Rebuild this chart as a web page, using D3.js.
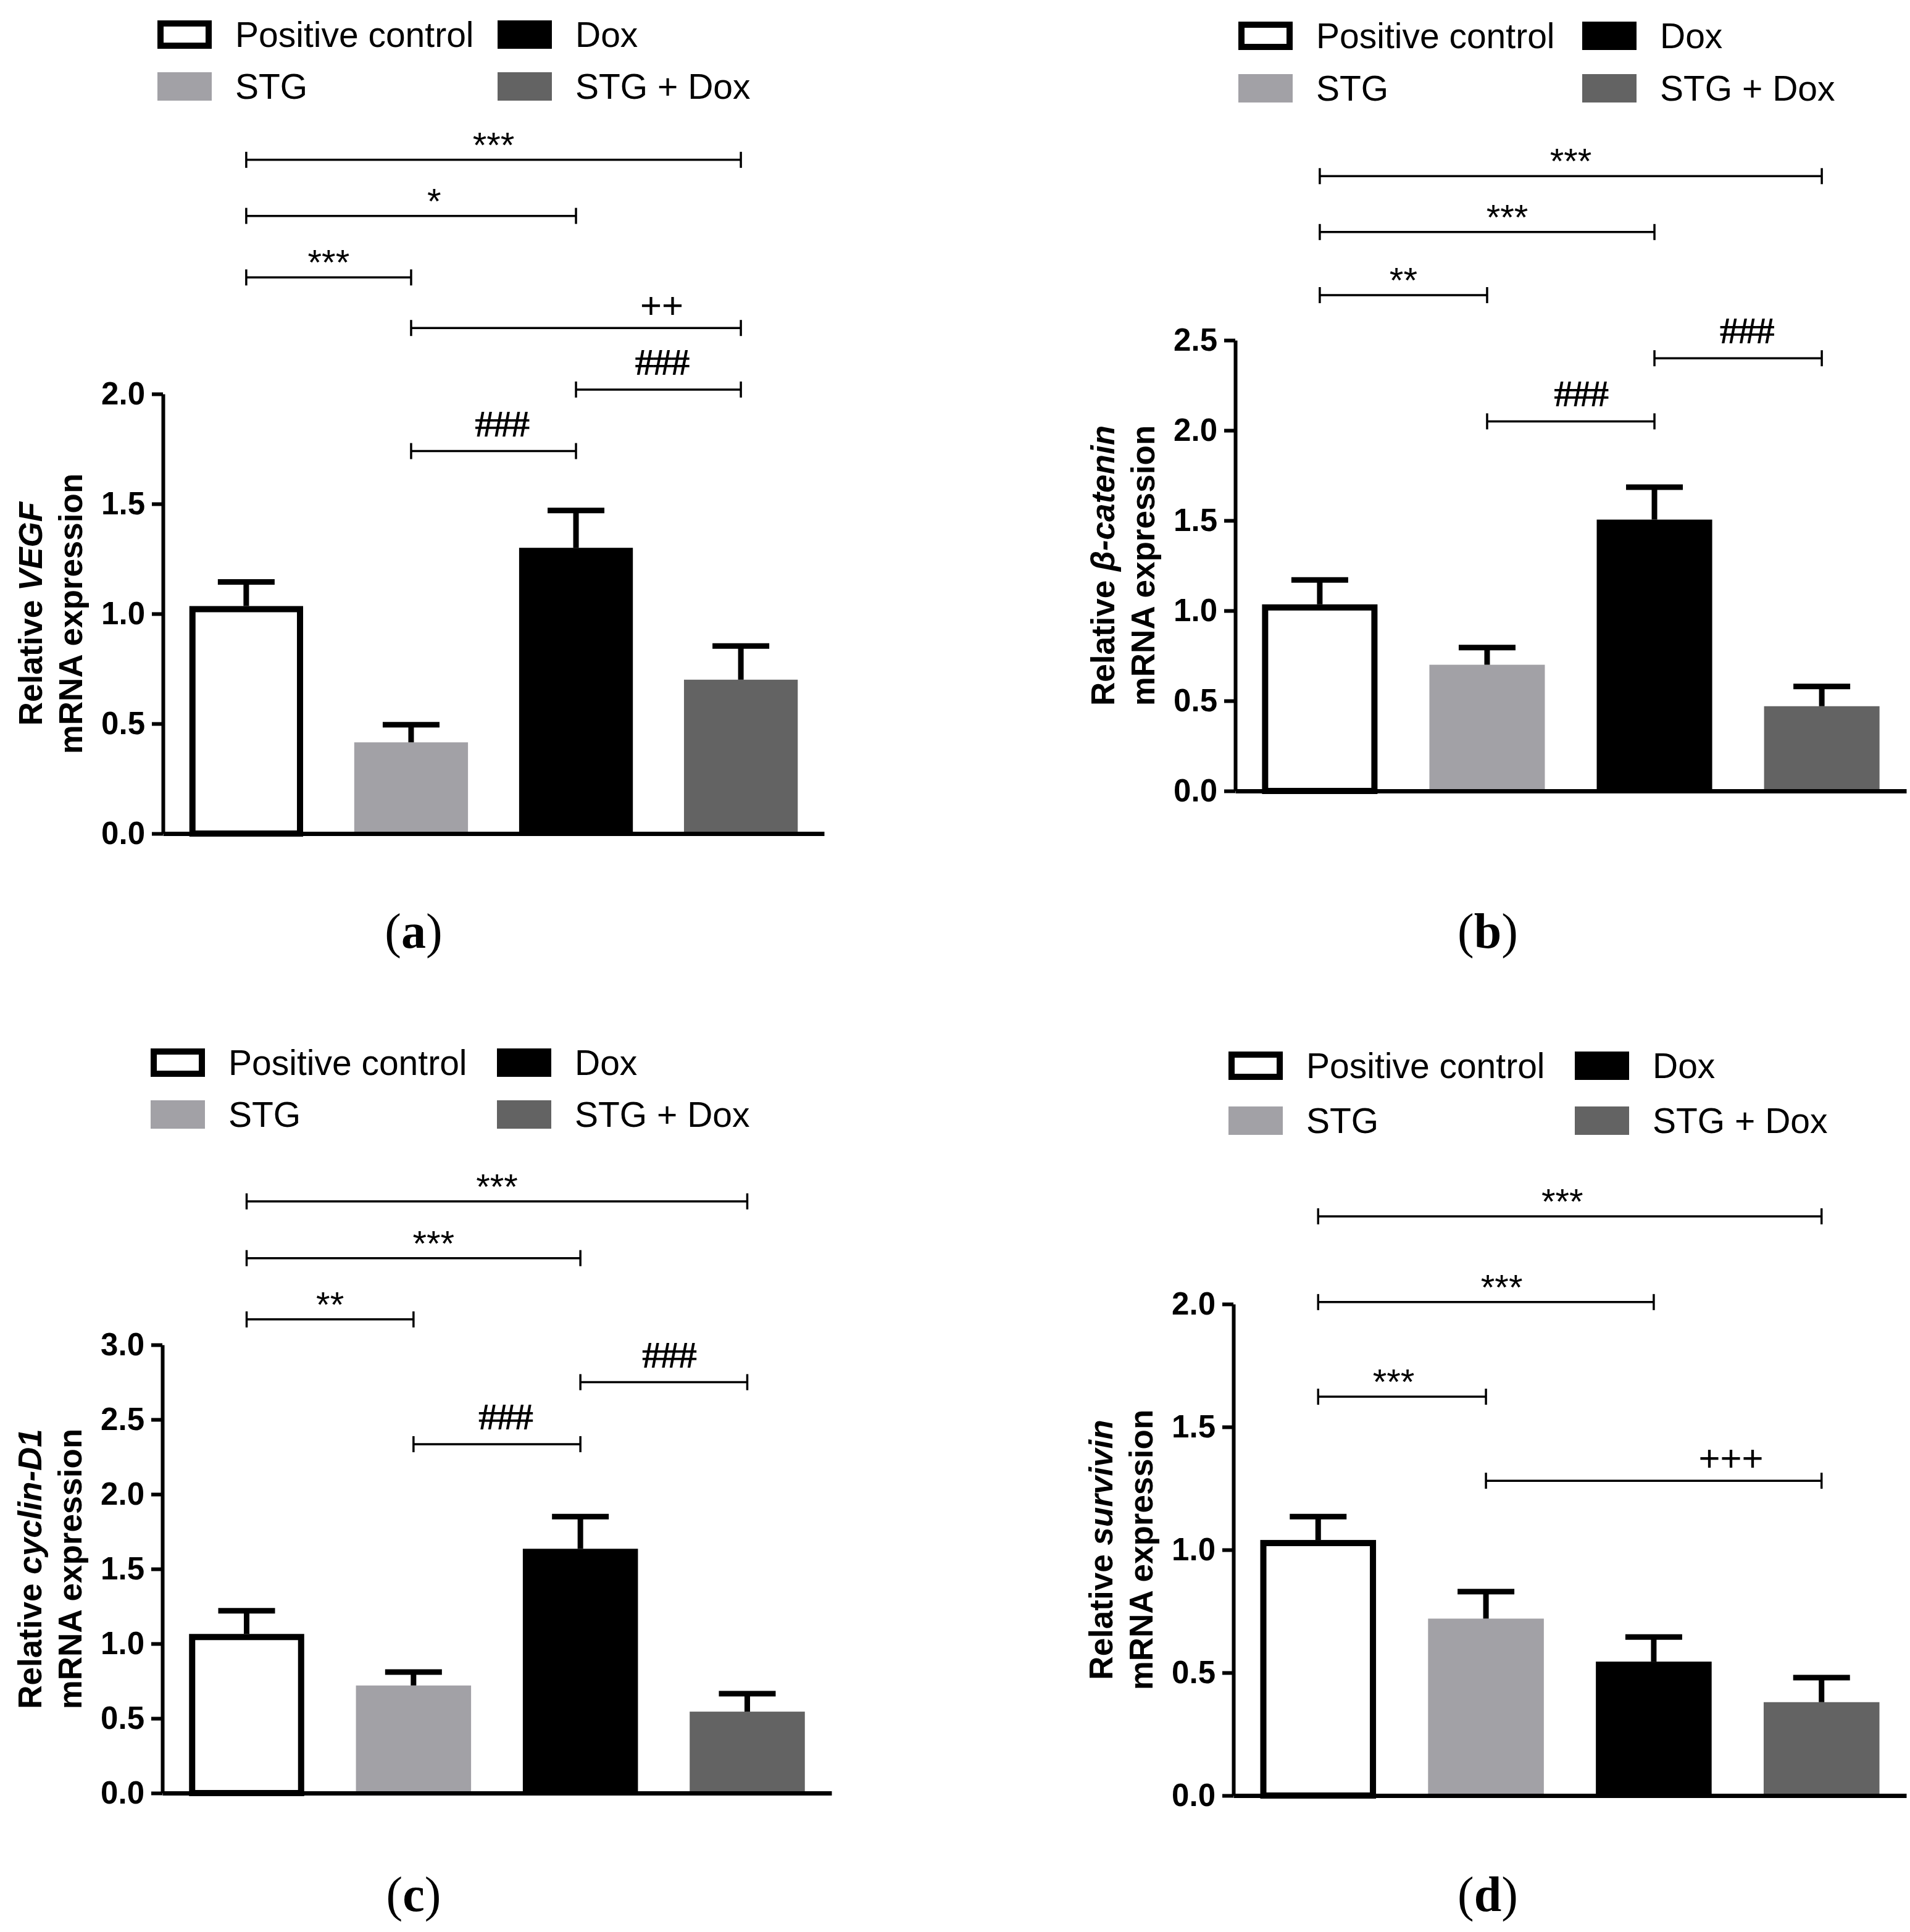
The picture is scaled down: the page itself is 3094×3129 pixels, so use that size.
<!DOCTYPE html>
<html>
<head>
<meta charset="utf-8">
<script src="https://cdn.jsdelivr.net/npm/d3@7"></script>
<style>
  body { margin: 0; background: #fff; }
  svg { display: block; }
</style>
</head>
<body>
<script>
// groups shared by all four panels
const groups = ["Positive control", "STG", "Dox", "STG + Dox"];
const groupFill = ["#ffffff", "#a2a1a6", "#000000", "#636363"];

// mean relative expression and upper error
const vegfMean = [1.035, 0.415, 1.30, 0.70];
const vegfErr = [0.11, 0.08, 0.17, 0.153];
const cateninMean = [1.035, 0.70, 1.505, 0.47];
const cateninErr = [0.135, 0.095, 0.18, 0.11];
const cyclinMean = [1.065, 0.72, 1.635, 0.545];
const cyclinErr = [0.155, 0.09, 0.215, 0.12];
const survivinMean = [1.04, 0.72, 0.545, 0.38];
const survivinErr = [0.095, 0.11, 0.10, 0.10];

// y tick labels
const vegfTicks = [0, 0.5, 1.0, 1.5, 2.0];
const cateninTicks = [0, 0.5, 1.0, 1.5, 2.0, 2.5];
const cyclinTicks = [0, 0.5, 1.0, 1.5, 2.0, 2.5, 3.0];
const survivinTicks = [0, 0.5, 1.0, 1.5, 2.0];

// significance comparisons [from group, to group, mark]
const vegfSig = [[0, 3, "***"], [0, 2, "*"], [0, 1, "***"], [1, 3, "++"], [2, 3, "###"], [1, 2, "###"]];
const cateninSig = [[0, 3, "***"], [0, 2, "***"], [0, 1, "**"], [2, 3, "###"], [1, 2, "###"]];
const cyclinSig = [[0, 3, "***"], [0, 2, "***"], [0, 1, "**"], [2, 3, "###"], [1, 2, "###"]];
const survivinSig = [[0, 3, "***"], [0, 2, "***"], [0, 1, "***"], [1, 3, "+++"]];

const panels = [
  { gene: "VEGF", mean: vegfMean, err: vegfErr, ticks: vegfTicks, sig: vegfSig, tag: "a",
    x0: 264, x1: 1335, yBase: 1350, yTop: 638,
    legX: 255, legRows: [56, 140], legCol: 551, capX: 670, capY: 1514,
    sigLevel: [3.065, 2.81, 2.53, 2.30, 2.02, 1.74], sigFrac: [0.5, 0.57, 0.5, 0.76, 0.52, 0.55] },
  { gene: "β-catenin", mean: cateninMean, err: cateninErr, ticks: cateninTicks, sig: cateninSig, tag: "b",
    x0: 2001, x1: 3088, yBase: 1281, yTop: 551,
    legX: 2006, legRows: [58, 143], legCol: 557, capX: 2410, capY: 1514,
    sigLevel: [3.41, 3.10, 2.75, 2.40, 2.05], sigFrac: [0.5, 0.56, 0.5, 0.55, 0.56] },
  { gene: "cyclin-D1", mean: cyclinMean, err: cyclinErr, ticks: cyclinTicks, sig: cyclinSig, tag: "c",
    x0: 263, x1: 1347, yBase: 2904, yTop: 2178,
    legX: 244, legRows: [1721, 1805], legCol: 561, capX: 670, capY: 3074,
    sigLevel: [3.96, 3.58, 3.17, 2.75, 2.335], sigFrac: [0.5, 0.56, 0.5, 0.53, 0.55] },
  { gene: "survivin", mean: survivinMean, err: survivinErr, ticks: survivinTicks, sig: survivinSig, tag: "d",
    x0: 1998, x1: 3088, yBase: 2908, yTop: 2112,
    legX: 1990, legRows: [1726, 1815], legCol: 561, capX: 2410, capY: 3074,
    sigLevel: [2.357, 2.008, 1.623, 1.281], sigFrac: [0.485, 0.547, 0.45, 0.73] }
];

const sans = "'Liberation Sans', Arial, Helvetica, sans-serif";
const serif = "'Liberation Serif', 'Times New Roman', serif";

const svg = d3.select("body").append("svg")
  .attr("width", 3094)
  .attr("height", 3129);
svg.append("rect").attr("width", 3094).attr("height", 3129).attr("fill", "#fff");

panels.forEach(p => drawPanel(p));

function drawPanel(p) {
  const g = svg.append("g");

  const x = d3.scaleBand()
    .domain(groups)
    .range([p.x0, p.x1])
    .paddingInner(0.31)
    .paddingOuter(0.16);
  const y = d3.scaleLinear()
    .domain([0, d3.max(p.ticks)])
    .range([p.yBase, p.yTop]);
  const cx = i => x(groups[i]) + x.bandwidth() / 2;

  // bars
  const bw = x.bandwidth();
  g.selectAll(".bar")
    .data(groups)
    .enter()
    .append("rect")
    .attr("class", "bar")
    .attr("x", (d, i) => i === 0 ? x(d) + 5 : x(d))
    .attr("y", (d, i) => i === 0 ? y(p.mean[i]) + 5 : y(p.mean[i]))
    .attr("width", (d, i) => i === 0 ? bw - 10 : bw)
    .attr("height", (d, i) => i === 0 ? p.yBase - y(p.mean[i]) - 5 : p.yBase - y(p.mean[i]))
    .attr("fill", (d, i) => groupFill[i])
    .attr("stroke", (d, i) => i === 0 ? "#000" : "none")
    .attr("stroke-width", 10);

  // error bars (upper only)
  groups.forEach((d, i) => {
    g.append("line")
      .attr("x1", cx(i)).attr("x2", cx(i))
      .attr("y1", y(p.mean[i])).attr("y2", y(p.mean[i] + p.err[i]))
      .attr("stroke", "#000").attr("stroke-width", 9);
    g.append("line")
      .attr("x1", cx(i) - 46).attr("x2", cx(i) + 46)
      .attr("y1", y(p.mean[i] + p.err[i])).attr("y2", y(p.mean[i] + p.err[i]))
      .attr("stroke", "#000").attr("stroke-width", 9);
  });

  // y axis
  const yAxis = d3.axisLeft(y)
    .tickValues(p.ticks)
    .tickFormat(d3.format(".1f"))
    .tickSize(18)
    .tickSizeOuter(0)
    .tickPadding(11);
  const ya = g.append("g")
    .attr("transform", "translate(" + p.x0 + ",0)")
    .call(yAxis);
  ya.select(".domain").attr("stroke", "#000").attr("stroke-width", 6);
  ya.selectAll(".tick line").attr("stroke", "#000").attr("stroke-width", 6);
  ya.selectAll(".tick text")
    .attr("fill", "#000")
    .style("font-family", sans)
    .style("font-weight", "bold")
    .style("font-size", "51px");

  // x axis, a bare line
  const xa = g.append("g")
    .attr("transform", "translate(0," + p.yBase + ")")
    .call(d3.axisBottom(x).tickValues([]).tickSizeOuter(0));
  xa.select(".domain").attr("stroke", "#000").attr("stroke-width", 7);

  // axis title
  const mid = (p.yBase + p.yTop) / 2;
  const tg = g.append("g")
    .attr("transform", "translate(" + p.x0 + "," + mid + ") rotate(-90)")
    .style("font-family", sans)
    .style("font-weight", "bold")
    .style("font-size", "53px")
    .attr("text-anchor", "middle");
  const t1 = tg.append("text").attr("y", -215).attr("dy", "0.35em");
  t1.append("tspan").text("Relative ");
  t1.append("tspan").style("font-style", "italic").text(p.gene);
  tg.append("text").attr("y", -150).attr("dy", "0.35em").text("mRNA expression");

  // significance brackets
  p.sig.forEach((s, k) => {
    const ly = y(p.sigLevel[k]);
    const xa0 = cx(s[0]), xb0 = cx(s[1]);
    g.append("line").attr("x1", xa0).attr("x2", xb0).attr("y1", ly).attr("y2", ly)
      .attr("stroke", "#000").attr("stroke-width", 3.5);
    [xa0, xb0].forEach(ex => {
      g.append("line").attr("x1", ex).attr("x2", ex).attr("y1", ly - 13).attr("y2", ly + 13)
        .attr("stroke", "#000").attr("stroke-width", 3.5);
    });
    const lx = xa0 + p.sigFrac[k] * (xb0 - xa0);
    const mark = s[2];
    const lab = g.append("text")
      .attr("x", lx)
      .attr("text-anchor", "middle")
      .attr("fill", "#000")
      .text(mark);
    if (mark[0] === "*") {
      lab.attr("y", ly - 4).style("font-family", sans).style("font-size", "58px");
    } else if (mark[0] === "+") {
      lab.attr("y", ly - 16).style("font-family", sans).style("font-size", "60px");
    } else {
      lab.attr("y", ly - 24).style("font-family", serif).style("font-weight", "bold")
        .style("font-size", "62px").style("letter-spacing", "-2px");
    }
  });

  // legend: two columns, two rows
  groups.forEach((d, i) => {
    const col = Math.floor(i / 2), row = i % 2;
    const bx = p.legX + col * p.legCol;
    const by = p.legRows[row];
    if (i === 0) {
      g.append("rect").attr("x", bx + 5).attr("y", by - 23 + 5).attr("width", 78).attr("height", 36)
        .attr("fill", "#fff").attr("stroke", "#000").attr("stroke-width", 10);
    } else {
      g.append("rect").attr("x", bx).attr("y", by - 23).attr("width", 88).attr("height", 46)
        .attr("fill", groupFill[i]);
    }
    g.append("text")
      .attr("x", bx + 126)
      .attr("y", by)
      .attr("dy", "0.35em")
      .attr("fill", "#000")
      .style("font-family", sans)
      .style("font-size", "57px")
      .text(d);
  });

  // caption
  const cap = g.append("text")
    .attr("x", p.capX)
    .attr("y", p.capY + 21)
    .attr("text-anchor", "middle")
    .attr("fill", "#000")
    .style("font-family", serif)
    .style("font-size", "80px");
  cap.append("tspan").text("(");
  cap.append("tspan").style("font-weight", "bold").text(p.tag);
  cap.append("tspan").text(")");
}
</script>
</body>
</html>
